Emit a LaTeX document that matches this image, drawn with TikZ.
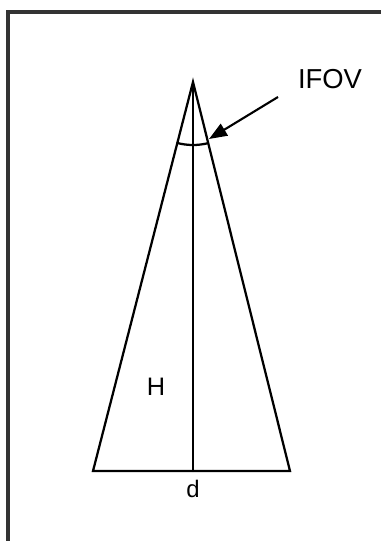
\documentclass[tikz,border=0pt]{standalone}
\usepackage{fontspec}
\setmainfont{Liberation Sans}
\usetikzlibrary{arrows.meta, positioning, calc}

\begin{document}
\begin{tikzpicture}[
            x=0.25mm, y=0.25mm,
            edge/.style={line width=1.6pt, line cap=round},
            frame/.style={line width=2.2pt, draw=black!80},
            pointer/.style={-{Triangle[length=4.5mm, width=3.4mm]}, line width=1.5pt},
            label/.style={font=\fontsize{18}{20}\selectfont, inner sep=0pt},
        ]
            \useasboundingbox (0,0) rectangle (381,541);
            \draw[frame] (8,0) -- (8,529) -- (381,529);

            \coordinate (apex) at (193,459);
            \coordinate (baseleft) at (93,70);
            \coordinate (baseright) at (290,70);
            \coordinate (foot) at (apex |- baseleft);

            \draw[edge] (baseleft) -- (apex) -- (baseright) -- cycle;
            \draw[edge] (apex) -- (foot);
            \draw[edge] (apex) ++(-104.4:63) arc[start angle=-104.4, end angle=-76.1, radius=63];

            \node[label, font=\fontsize{19.5}{21}\selectfont] (ifov) at (330,462) {IFOV};
            \node[label] (height) at (156,154) {H};
            \node[label, below=8.5 of foot, font=\fontsize{17}{19}\selectfont] (width) {d};

            \coordinate (ifovtail) at (278,444);
            \coordinate (ifovtip) at (209,402);
            \draw[pointer] (ifovtail) -- (ifovtip);
        \end{tikzpicture}
\end{document}
